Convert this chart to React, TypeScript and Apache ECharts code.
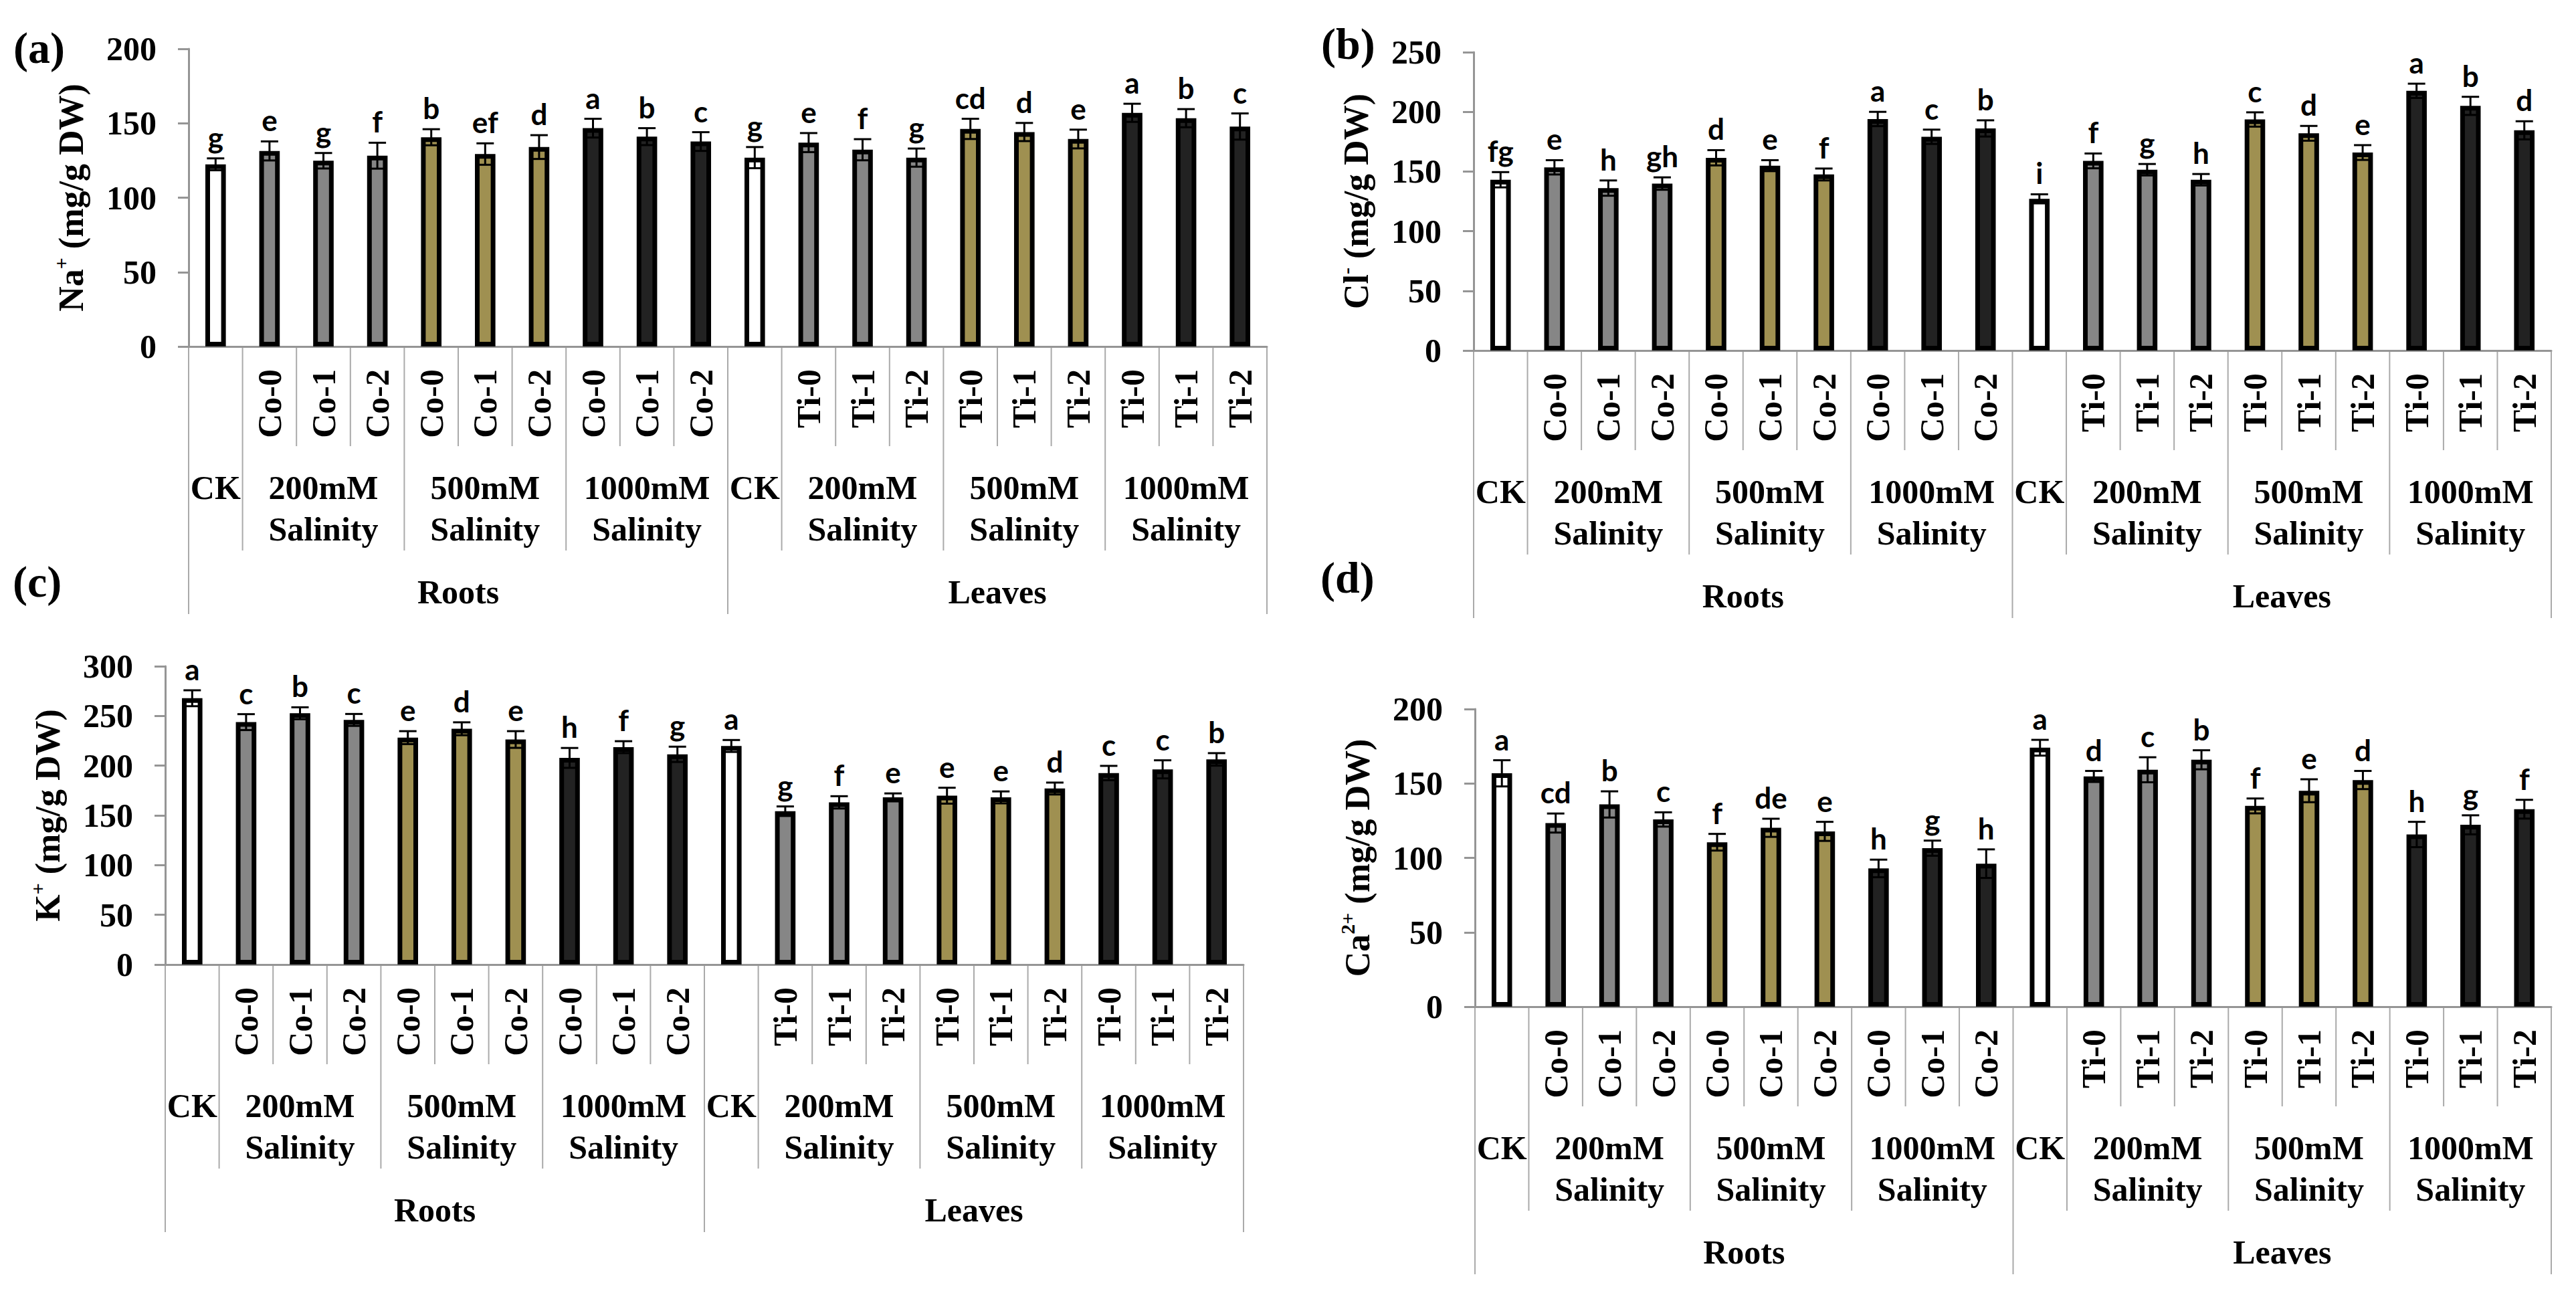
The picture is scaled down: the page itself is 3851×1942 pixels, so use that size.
import React, { useEffect, useRef } from 'react';
import * as echarts from 'echarts';

// ---------- categories ----------
const level1Labels = ['', 'Co-0', 'Co-1', 'Co-2', 'Co-0', 'Co-1', 'Co-2', 'Co-0', 'Co-1', 'Co-2',
  '', 'Ti-0', 'Ti-1', 'Ti-2', 'Ti-0', 'Ti-1', 'Ti-2', 'Ti-0', 'Ti-1', 'Ti-2'];
const groupLabels = ['CK', '200mM\nSalinity', '500mM\nSalinity', '1000mM\nSalinity'];
const groupSpans = [1, 3, 3, 3];
const organLabels = ['Roots', 'Leaves'];

// ---------- (a) Na+ ----------
const naValues = [122.4, 131.4, 124.8, 128.2, 140.6, 129.3, 134.0, 146.7, 141.0, 137.7,
  126.9, 137.0, 132.2, 126.9, 146.2, 144.1, 139.4, 157.0, 153.4, 147.8];
const naErrors = [4.0, 6.4, 5.2, 8.7, 5.4, 7.2, 8.0, 6.3, 5.7, 6.3,
  7.1, 6.4, 7.1, 6.1, 6.8, 6.1, 6.3, 6.1, 6.1, 8.8];
const naLetters = ['g', 'e', 'g', 'f', 'b', 'ef', 'd', 'a', 'b', 'c',
  'g', 'e', 'f', 'g', 'cd', 'd', 'e', 'a', 'b', 'c'];

// ---------- (b) Cl- ----------
const clValues = [143.1, 153.5, 136.1, 139.9, 161.5, 154.9, 147.5, 194.0, 179.1, 186.1,
  127.1, 158.9, 151.5, 143.1, 193.6, 182.0, 165.9, 217.6, 205.0, 184.5];
const clErrors = [6.4, 6.0, 6.4, 5.2, 6.4, 4.6, 5.0, 6.0, 6.0, 6.8,
  3.8, 6.2, 4.8, 4.8, 6.0, 6.2, 6.2, 6.0, 7.6, 7.6];
const clLetters = ['fg', 'e', 'h', 'gh', 'd', 'e', 'f', 'a', 'c', 'b',
  'i', 'f', 'g', 'h', 'c', 'd', 'e', 'a', 'b', 'd'];

// ---------- (c) K+ ----------
const kValues = [267.8, 243.8, 252.7, 246.0, 228.2, 237.1, 226.3, 207.8, 218.6, 211.4,
  219.8, 154.2, 163.1, 168.1, 169.8, 168.1, 177.0, 192.6, 196.3, 206.3];
const kErrors = [8.0, 8.0, 6.0, 6.0, 6.5, 6.5, 8.4, 10.0, 6.0, 7.7,
  6.0, 4.8, 6.2, 4.0, 8.0, 6.0, 6.0, 7.2, 9.1, 6.3];
const kLetters = ['a', 'c', 'b', 'c', 'e', 'd', 'e', 'h', 'f', 'g',
  'a', 'g', 'f', 'e', 'e', 'e', 'd', 'c', 'c', 'b'];

// ---------- (d) Ca2+ ----------
const caValues = [156.8, 123.4, 135.9, 125.8, 110.5, 120.2, 117.8, 92.9, 106.5, 96.1,
  174.0, 154.7, 159.2, 165.9, 134.9, 145.1, 152.3, 115.7, 122.2, 132.7];
const caErrors = [8.8, 6.4, 8.8, 4.8, 5.6, 6.1, 6.4, 5.9, 5.1, 9.6,
  5.3, 3.7, 8.4, 6.4, 5.0, 7.7, 6.1, 8.5, 6.4, 6.3];
const caLetters = ['a', 'cd', 'b', 'c', 'f', 'de', 'e', 'h', 'g', 'h',
  'a', 'd', 'c', 'b', 'f', 'e', 'd', 'h', 'g', 'f'];

// ---------- axes ----------
const yMaxes = [200, 250, 300, 200];
const yInterval = 50;
const yTitles = [
  '{t|Na}{s|+}{t| (mg/g DW)}',
  '{t|Cl}{s|-}{t| (mg/g DW)}',
  '{t|K}{s|+}{t| (mg/g DW)}',
  '{t|Ca}{s|2+}{t| (mg/g DW)}',
];
const panelLetters = ['(a)', '(b)', '(c)', '(d)'];

// ---------- style / layout ----------
const groupFills = ['#ffffff', '#868686', '#9f9051', '#222222'];
const SERIF = 'Liberation Serif, Times New Roman, serif';
const SANS = 'Lato, Calibri, sans-serif';
const AXIS_GRAY = '#959595';
const SEP_GRAY = '#aaaaaa';

const gridBoxes = [
  { left: 282, top: 73, width: 1612, height: 445 },
  { left: 2203, top: 78, width: 1611, height: 446 },
  { left: 247, top: 996, width: 1612, height: 446 },
  { left: 2205, top: 1060, width: 1609, height: 445 },
];
const letterPos = [[20, 38], [1975, 32], [19, 836], [1974, 830]];

const groupOf = (i: number) => {
  const k = i % 10;
  return k === 0 ? 0 : 1 + Math.floor((k - 1) / 3);
};

// group start indices (within 20 categories)
const groupItems: number[][] = [];
organLabels.forEach((_, o) => {
  let s = o * 10;
  groupSpans.forEach((sp) => {
    groupItems.push([s, sp]);
    s += sp;
  });
});
const groupStartSet = new Set(groupItems.map((g) => g[0]));

const panels = [
  { values: naValues, errors: naErrors, letters: naLetters },
  { values: clValues, errors: clErrors, letters: clLetters },
  { values: kValues, errors: kErrors, letters: kLetters },
  { values: caValues, errors: caErrors, letters: caLetters },
];

function buildOption() {
  const grid: any[] = [];
  const xAxis: any[] = [];
  const yAxis: any[] = [];
  const series: any[] = [];
  const graphic: any[] = [];

  panels.forEach((p, k) => {
    grid.push({ ...gridBoxes[k], containLabel: false });
    xAxis.push({
      type: 'category',
      gridIndex: k,
      data: level1Labels.map((l, i) => `${i}:${l}`),
      axisLine: { show: true, lineStyle: { color: AXIS_GRAY, width: 3 } },
      axisTick: { show: false },
      axisLabel: {
        interval: 0,
        rotate: 90,
        margin: 34,
        formatter: (_v: string, i: number) => level1Labels[i],
        fontFamily: SERIF,
        fontWeight: 'bold',
        fontSize: 50,
        color: '#000',
      },
      splitLine: { show: false },
    });
    yAxis.push({
      type: 'value',
      gridIndex: k,
      min: 0,
      max: yMaxes[k],
      interval: yInterval,
      name: yTitles[k],
      nameLocation: 'middle',
      nameGap: 146,
      nameRotate: 90,
      nameTextStyle: {
        rich: {
          t: { fontFamily: SERIF, fontWeight: 'bold', fontSize: 52, color: '#000', lineHeight: 60 },
          s: { fontFamily: SERIF, fontWeight: 'bold', fontSize: 30, color: '#000', lineHeight: 30, verticalAlign: 'top' },
        },
      },
      axisLine: { show: true, lineStyle: { color: AXIS_GRAY, width: 3 } },
      axisTick: { show: true, inside: false, length: 16, lineStyle: { color: AXIS_GRAY, width: 3 } },
      axisLabel: { margin: 48, fontFamily: SERIF, fontWeight: 'bold', fontSize: 50, color: '#000' },
      splitLine: { show: false },
    });

    // bars
    series.push({
      type: 'bar',
      xAxisIndex: k,
      yAxisIndex: k,
      barWidth: '38%',
      data: p.values.map((v, i) => ({
        value: v,
        itemStyle: { color: groupFills[groupOf(i)], borderColor: '#000', borderWidth: 7 },
      })),
      z: 2,
      silent: true,
    });

    // error bars + significance letters
    series.push({
      type: 'custom',
      xAxisIndex: k,
      yAxisIndex: k,
      clip: false,
      silent: true,
      z: 5,
      data: p.values.map((v, i) => [i, v, p.errors[i]]),
      encode: { x: 0, y: 1 },
      renderItem: (params: any, api: any) => {
        const i = api.value(0);
        const v = api.value(1);
        const e = api.value(2);
        const top = api.coord([i, v + e]);
        const bot = api.coord([i, v - e]);
        const hw = 13;
        const st = { stroke: '#000', lineWidth: 3 };
        return {
          type: 'group',
          children: [
            { type: 'line', shape: { x1: top[0], y1: top[1], x2: bot[0], y2: bot[1] }, style: st },
            { type: 'line', shape: { x1: top[0] - hw, y1: top[1], x2: top[0] + hw, y2: top[1] }, style: st },
            { type: 'line', shape: { x1: bot[0] - hw, y1: bot[1], x2: bot[0] + hw, y2: bot[1] }, style: st },
            {
              type: 'text',
              x: top[0],
              y: top[1] - 10,
              style: {
                text: p.letters[params.dataIndex],
                fill: '#000',
                fontFamily: SANS,
                fontWeight: 'bold',
                fontSize: 44,
                align: 'center',
                verticalAlign: 'bottom',
              },
            },
          ],
        };
      },
    });

    // separator lines below x axis
    series.push({
      type: 'custom',
      xAxisIndex: k,
      yAxisIndex: k,
      clip: false,
      silent: true,
      z: 1,
      data: Array.from({ length: level1Labels.length + 1 }, (_, b) => [Math.min(b, level1Labels.length - 1), 0]),
      encode: { x: 0, y: 1 },
      renderItem: (params: any, api: any) => {
        const b = params.dataIndex;
        const n = level1Labels.length;
        const w = api.size([1, 0])[0];
        const c = api.coord([Math.min(b, n - 1), 0]);
        const x = c[0] + (b === n ? w / 2 : -w / 2);
        const len = b % 10 === 0 ? 400 : groupStartSet.has(b) ? 305 : 149;
        return {
          type: 'line',
          shape: { x1: x, y1: c[1] + 2, x2: x, y2: c[1] + len },
          style: { stroke: SEP_GRAY, lineWidth: 2 },
        };
      },
    });

    // level-2 group labels
    series.push({
      type: 'custom',
      xAxisIndex: k,
      yAxisIndex: k,
      clip: false,
      silent: true,
      data: groupItems.map((g) => [g[0], 0, g[1]]),
      encode: { x: 0, y: 1 },
      renderItem: (params: any, api: any) => {
        const s = api.value(0);
        const span = api.value(2);
        const c1 = api.coord([s, 0]);
        const c2 = api.coord([s + span - 1, 0]);
        return {
          type: 'text',
          x: (c1[0] + c2[0]) / 2,
          y: c1[1] + 180,
          style: {
            text: groupLabels[params.dataIndex % groupLabels.length],
            fill: '#000',
            fontFamily: SERIF,
            fontWeight: 'bold',
            fontSize: 50,
            lineHeight: 62,
            align: 'center',
            verticalAlign: 'top',
          },
        };
      },
    });

    // level-3 organ labels
    series.push({
      type: 'custom',
      xAxisIndex: k,
      yAxisIndex: k,
      clip: false,
      silent: true,
      data: organLabels.map((_, o) => [o * 10, 0, 10]),
      encode: { x: 0, y: 1 },
      renderItem: (params: any, api: any) => {
        const s = api.value(0);
        const span = api.value(2);
        const c1 = api.coord([s, 0]);
        const c2 = api.coord([s + span - 1, 0]);
        return {
          type: 'text',
          x: (c1[0] + c2[0]) / 2,
          y: c1[1] + 367,
          style: {
            text: organLabels[params.dataIndex],
            fill: '#000',
            fontFamily: SERIF,
            fontWeight: 'bold',
            fontSize: 50,
            align: 'center',
            verticalAlign: 'middle',
          },
        };
      },
    });

    graphic.push({
      type: 'text',
      left: letterPos[k][0],
      top: letterPos[k][1],
      style: {
        text: panelLetters[k],
        fill: '#000',
        fontFamily: SERIF,
        fontWeight: 'bold',
        fontSize: 66,
      },
    });
  });

  return {
    animation: false,
    backgroundColor: '#ffffff',
    grid,
    xAxis,
    yAxis,
    series,
    graphic,
  };
}

export default function App() {
  const ref = useRef<HTMLDivElement>(null);
  useEffect(() => {
    if (!ref.current) return;
    const chart = echarts.init(ref.current, undefined, { renderer: 'svg' });
    chart.setOption(buildOption() as any);
    return () => chart.dispose();
  }, []);
  return (
    <div
      ref={ref}
      style={{ position: 'fixed', left: 0, top: 0, width: 3851, height: 1942, background: '#fff' }}
    />
  );
}
